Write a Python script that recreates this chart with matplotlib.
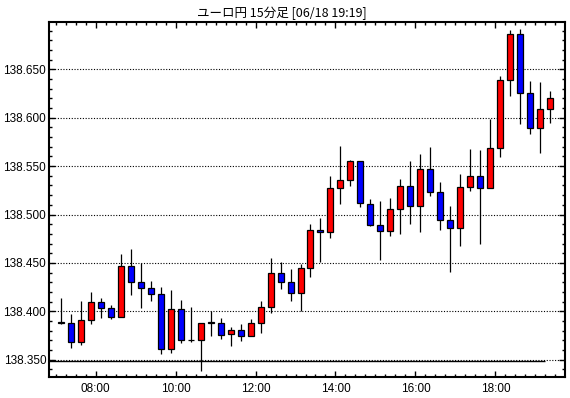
import matplotlib
matplotlib.use('Agg')
import matplotlib.pyplot as plt
import matplotlib.dates as mdates
from matplotlib.ticker import MultipleLocator, FormatStrFormatter
import pandas as pd

# 15-minute bars, EUR/JPY, 06/18
bar_starts = pd.date_range('2021-06-18 07:00', periods=50, freq='15min')

opens = [138.388, 138.388, 138.368, 138.391, 138.410, 138.403, 138.394, 138.4465, 138.4306, 138.4245,
         138.418, 138.3614, 138.402, 138.3705, 138.3707, 138.388, 138.388, 138.3762, 138.3804, 138.3742,
         138.3876, 138.404, 138.440, 138.430, 138.4186, 138.4444, 138.4837, 138.4816, 138.527, 138.5353,
         138.555, 138.5105, 138.4888, 138.4826, 138.5054, 138.529, 138.5085, 138.5467, 138.523, 138.494,
         138.4857, 138.528, 138.5395, 138.527, 138.5684, 138.6386, 138.686, 138.6252, 138.589, 138.6087]
highs = [138.4134, 138.397, 138.4106, 138.420, 138.4137, 138.4065, 138.459, 138.4644, 138.450, 138.431,
         138.425, 138.422, 138.4114, 138.4045, 138.388, 138.400, 138.3928, 138.3838, 138.3869, 138.392,
         138.4106, 138.455, 138.4506, 138.4434, 138.4485, 138.4899, 138.4964, 138.5395, 138.5708, 138.556,
         138.555, 138.5157, 138.514, 138.5167, 138.5364, 138.555, 138.5625, 138.5697, 138.5333, 138.5085,
         138.5418, 138.5674, 138.5664, 138.599, 138.643, 138.6906, 138.6916, 138.6376, 138.6366, 138.6273]
lows = [138.3866, 138.3624, 138.3655, 138.3872, 138.3934, 138.3924, 138.3938, 138.417, 138.4037, 138.411,
        138.3556, 138.357, 138.3676, 138.3686, 138.3386, 138.3748, 138.3717, 138.3645, 138.369, 138.3742,
        138.3773, 138.3986, 138.4233, 138.411, 138.400, 138.4357, 138.4506, 138.4754, 138.5105, 138.5291,
        138.508, 138.4884, 138.4533, 138.478, 138.4795, 138.4905, 138.4816, 138.5188, 138.4837, 138.4403,
        138.4678, 138.5246, 138.4695, 138.527, 138.5597, 138.6227, 138.5938, 138.5835, 138.5632, 138.5942]
closes = [138.388, 138.368, 138.391, 138.410, 138.403, 138.394, 138.4465, 138.4306, 138.4245, 138.4176,
          138.3614, 138.402, 138.370, 138.370, 138.388, 138.388, 138.376, 138.3804, 138.3742, 138.3876,
          138.404, 138.440, 138.430, 138.4186, 138.4444, 138.4837, 138.4816, 138.527, 138.5353, 138.555,
          138.5116, 138.4888, 138.4826, 138.5054, 138.529, 138.5085, 138.5467, 138.523, 138.494, 138.4857,
          138.528, 138.5395, 138.527, 138.5684, 138.6386, 138.686, 138.6252, 138.589, 138.6087, 138.620]

base_line = 138.3485
title = 'ユーロ円 15分足 [06/18 19:19]'

fig = plt.figure(figsize=(5.7, 3.98), dpi=100)
ax = fig.add_axes([49 / 570, 21 / 398, 516 / 570, 355 / 398])

centers = mdates.date2num(bar_starts + pd.Timedelta(minutes=7.5))
bar_w = 9 / (24 * 60)

ax.vlines(centers, lows, highs, color='black', lw=0.9, zorder=2)
for x, o, c in zip(centers, opens, closes):
    color = '#ff0000' if c > o else '#0000ff'
    ax.bar(x, max(abs(c - o), 0.0008), bottom=min(o, c), width=bar_w,
           color=color, edgecolor='black', linewidth=0.9, zorder=3)

x_left = mdates.date2num(pd.Timestamp('2021-06-18 06:50'))
x_right = mdates.date2num(pd.Timestamp('2021-06-18 19:44.5'))
ax.hlines(base_line, x_left, mdates.date2num(pd.Timestamp('2021-06-18 19:14')),
          color='black', lw=1.0, zorder=2)

ax.set_xlim(x_left, x_right)
ax.set_ylim(138.3321, 138.6989)

ax.yaxis.set_major_locator(MultipleLocator(0.05))
ax.yaxis.set_minor_locator(MultipleLocator(0.01))
ax.yaxis.set_major_formatter(FormatStrFormatter('%.3f'))
ax.xaxis.set_major_locator(mdates.HourLocator(byhour=range(0, 24, 2)))
ax.xaxis.set_minor_locator(mdates.MinuteLocator(byminute=[0, 15, 30, 45]))
ax.xaxis.set_major_formatter(mdates.DateFormatter('%H:%M'))

ax.yaxis.grid(True, which='major', color='black', linestyle=(0, (1, 1.5)), lw=0.8)
ax.set_axisbelow(True)

ax.tick_params(which='both', direction='in', top=True, right=True, colors='black')
ax.tick_params(which='major', length=4, width=1)
ax.tick_params(which='minor', length=2.5, width=1)
ax.tick_params(axis='y', labelsize=8.5, pad=2)
ax.tick_params(axis='x', labelsize=8.5, pad=4)
for lab in ax.get_xticklabels() + ax.get_yticklabels():
    lab.set_family('Liberation Sans')

for sp in ax.spines.values():
    sp.set_linewidth(1.5)

fig.text(0.495, 1 - 13 / 398, title, ha='center', va='center', fontsize=9,
         family=['Noto Sans CJK JP', 'DejaVu Sans'])

fig.savefig('out.png', dpi=100)
